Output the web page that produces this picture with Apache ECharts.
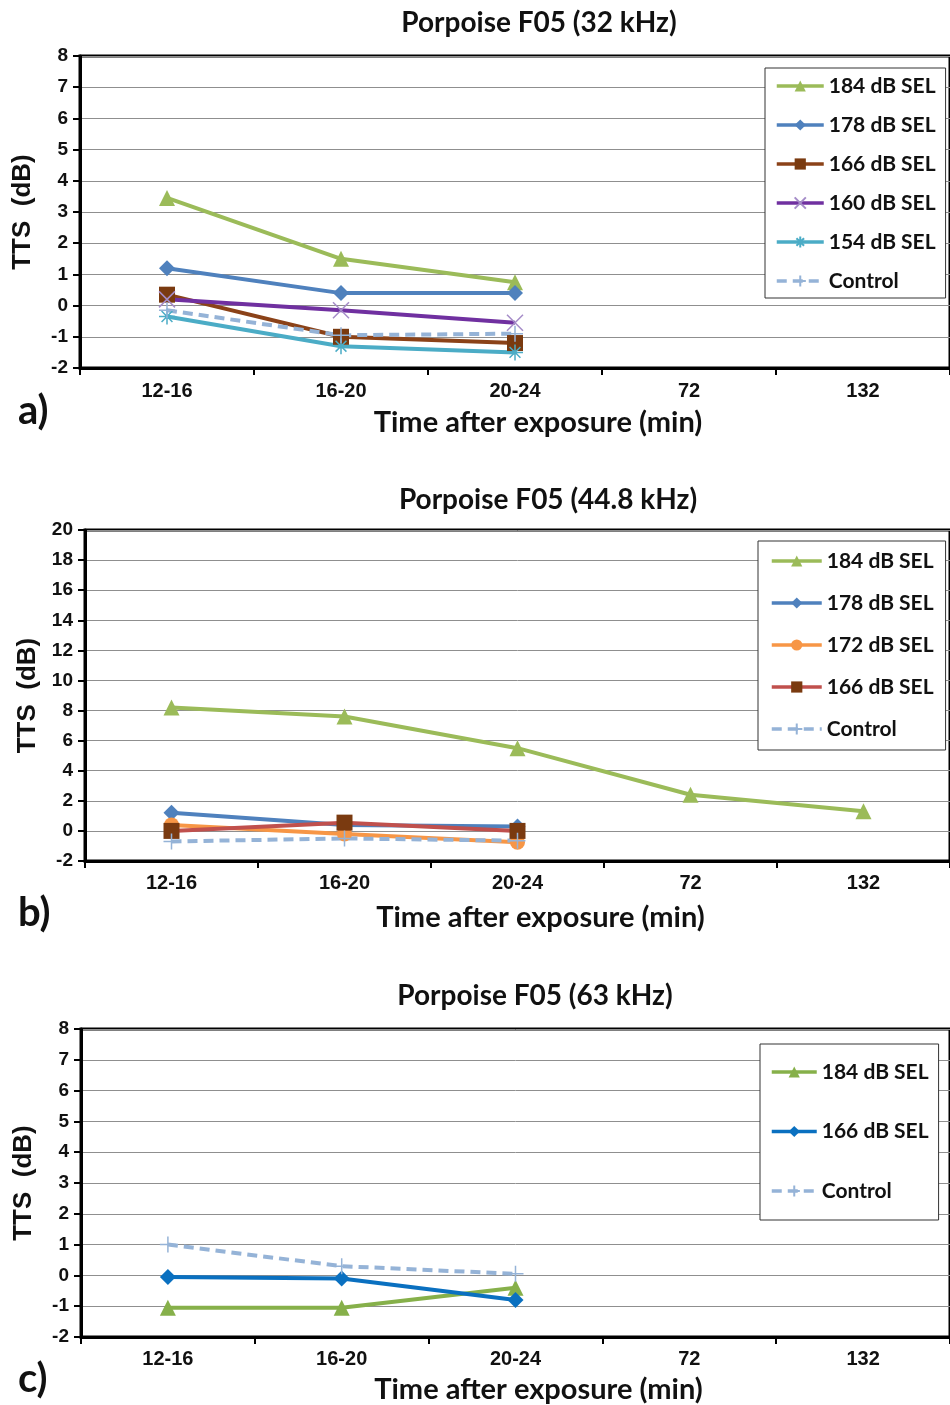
<!DOCTYPE html>
<html><head><meta charset="utf-8">
<script src="https://cdn.jsdelivr.net/npm/echarts@6/dist/echarts.min.js"></script>
<style>html,body{margin:0;padding:0;background:#fff}#c{width:950px;height:1405px}</style>
</head><body><div id="c"></div>
<script>
// ---- data ----
const categories = ['12-16', '16-20', '20-24', '72', '132'];
const titles = ['Porpoise F05 (32 kHz)', 'Porpoise F05 (44.8 kHz)', 'Porpoise F05 (63 kHz)'];
const panelLabels = ['a)', 'b)', 'c)'];
const xName = 'Time after exposure (min)';
const yName = 'TTS  (dB)';

// panel a (32 kHz)
const a184 = [3.45, 1.5, 0.75];
const a178 = [1.2, 0.4, 0.4];
const a166 = [0.35, -1.0, -1.2];
const a160 = [0.2, -0.15, -0.55];
const a154 = [-0.35, -1.3, -1.5];
const aCtl = [-0.15, -0.95, -0.9];
// panel b (44.8 kHz)
const b184 = [8.2, 7.6, 5.5, 2.4, 1.3];
const b178 = [1.2, 0.4, 0.3];
const b172 = [0.4, -0.2, -0.75];
const b166 = [0.0, 0.55, 0.0];
const bCtl = [-0.7, -0.5, -0.65];
// panel c (63 kHz)
const c184 = [-1.05, -1.05, -0.4];
const c166 = [-0.05, -0.1, -0.8];
const cCtl = [1.0, 0.3, 0.05];

// ---- styles ----
const SYM_X = 'path://M0,0L10,10M10,0L0,10';
const SYM_STAR = 'path://M5,0L5,10M0,5L10,5M1.6,1.6L8.4,8.4M8.4,1.6L1.6,8.4';
const SYM_PLUS = 'path://M5,0L5,10M0,5L10,5';
const FONT_C = 'Lato, "Open Sans", sans-serif';
const FONT_A = '"Liberation Sans", Arial, sans-serif';

function ser(panel, name, data, lineColor, symbol, size, markColor, dashed, strokeSym) {
  return {
    type: 'line', name: panel + ':' + name, data: data,
    xAxisIndex: ['a','b','c'].indexOf(panel), yAxisIndex: ['a','b','c'].indexOf(panel),
    symbol: symbol, symbolSize: size, showSymbol: true,
    lineStyle: { color: lineColor, width: 4, type: dashed ? [10, 6] : 'solid' },
    itemStyle: strokeSym ? { color: markColor, borderColor: markColor, borderWidth: 1.5 }
                         : { color: markColor, borderWidth: 0 },
    emphasis: { disabled: true }, animation: false, z: 3
  };
}

const series = [
  ser('a', '184 dB SEL', a184, '#9BBB59', 'triangle', 16, '#9BBB59'),
  ser('a', '178 dB SEL', a178, '#4F81BD', 'diamond', 16, '#4F81BD'),
  ser('a', '166 dB SEL', a166, '#8B4218', 'rect', 16, '#7A3A10'),
  ser('a', '160 dB SEL', a160, '#7030A0', SYM_X, 16, '#A58CC8', false, true),
  ser('a', '154 dB SEL', a154, '#4BACC6', SYM_STAR, 16, '#4BACC6', false, true),
  ser('a', 'Control', aCtl, '#95B3D7', SYM_PLUS, 16, '#95B3D7', true, true),
  ser('b', '184 dB SEL', b184, '#9BBB59', 'triangle', 16, '#9BBB59'),
  ser('b', '178 dB SEL', b178, '#4F81BD', 'diamond', 16, '#4F81BD'),
  ser('b', '172 dB SEL', b172, '#F79646', 'circle', 15, '#F79646'),
  ser('b', '166 dB SEL', b166, '#C0504D', 'rect', 16, '#7A3A10'),
  ser('b', 'Control', bCtl, '#95B3D7', SYM_PLUS, 16, '#95B3D7', true, true),
  ser('c', '184 dB SEL', c184, '#86B04A', 'triangle', 16, '#86B04A'),
  ser('c', '166 dB SEL', c166, '#0A70C0', 'diamond', 16, '#0A70C0'),
  ser('c', 'Control', cCtl, '#95B3D7', SYM_PLUS, 16, '#95B3D7', true, true)
];

const grids = [
  { left: 80, top: 56, width: 875, height: 312 },
  { left: 85, top: 530, width: 871, height: 331 },
  { left: 81, top: 1029, width: 874, height: 308 }
];
const yRanges = [[-2, 8, 1], [-2, 20, 2], [-2, 8, 1]];
const xLabelMargin = [13, 12, 12];
const xNameGap = [40, 42, 38];
const yNameGap = [44, 44, 44];

const xAxes = grids.map((g, i) => ({
  type: 'category', gridIndex: i, data: categories, boundaryGap: true,
  axisLine: { show: true, onZero: false, lineStyle: { color: '#000', width: 3 } },
  axisTick: { show: true, length: 7, lineStyle: { color: '#000', width: 2 }, alignWithLabel: false },
  axisLabel: { color: '#111', fontFamily: FONT_A, fontWeight: 'bold', fontSize: 20, margin: xLabelMargin[i] },
  name: xName, nameLocation: 'middle', nameGap: xNameGap[i],
  nameTextStyle: { color: '#111', fontFamily: FONT_C, fontWeight: 'bold', fontSize: 29, padding: [0, 0, 0, 46] },
  splitLine: { show: false }
}));
const yAxes = grids.map((g, i) => ({
  type: 'value', gridIndex: i, min: yRanges[i][0], max: yRanges[i][1], interval: yRanges[i][2],
  axisLine: { show: true, onZero: false, lineStyle: { color: '#000', width: 3 } },
  axisTick: { show: true, length: 7, lineStyle: { color: '#000', width: 2 } },
  axisLabel: { color: '#111', fontFamily: FONT_A, fontWeight: 'bold', fontSize: 19, margin: 12 },
  splitLine: { show: true, lineStyle: { color: '#8f8f8f', width: 1 } },
  name: yName, nameLocation: 'middle', nameGap: yNameGap[i], nameRotate: 90,
  nameTextStyle: { color: '#111', fontFamily: FONT_A, fontWeight: 'bold', fontSize: 26 }
}));

const legendNames = [
  series.filter(s => s.name.startsWith('a:')).map(s => s.name),
  series.filter(s => s.name.startsWith('b:')).map(s => s.name),
  series.filter(s => s.name.startsWith('c:')).map(s => s.name)
];
const legendPos = [
  { left: 765, top: 68, itemGap: 17, padding: [7, 10, 6, 10], itemWidth: 47 },
  { left: 758, top: 541, itemGap: 20, padding: [9, 12, 10, 12], itemWidth: 50 },
  { left: 760, top: 1044, itemGap: 37.5, padding: [17, 10, 18, 10], itemWidth: 45 }
];
const legends = legendPos.map((p, i) => ({
  data: legendNames[i], orient: 'vertical', left: p.left, top: p.top,
  itemGap: p.itemGap, padding: p.padding, itemWidth: p.itemWidth, itemHeight: 14,
  backgroundColor: '#fff', borderColor: '#333', borderWidth: 1,
  selectedMode: false, itemTextGap: 6,
  lineStyle: { width: 3.5 },
  formatter: n => n.slice(2),
  textStyle: { color: '#111', fontFamily: FONT_C, fontWeight: 'bold', fontSize: 21, lineHeight: 22 }
}));

const titleX = [534, 543, 530];
const titleY = [4, 481, 977];
const titleComps = titles.map((t, i) => ({
  text: t, left: titleX[i], top: titleY[i], textAlign: 'center',
  textStyle: { color: '#111', fontFamily: FONT_C, fontWeight: 'bold', fontSize: 28 }
}));
const labelY = [386, 888, 1354];
const labelComps = panelLabels.map((t, i) => ({
  text: t, left: 13, top: labelY[i],
  textStyle: { color: '#111', fontFamily: FONT_C, fontWeight: 'bold', fontSize: 40 }
}));

const chart = echarts.init(document.getElementById('c'), null, { renderer: 'canvas' });
chart.setOption({
  animation: false,
  backgroundColor: '#fff',
  title: titleComps.concat(labelComps),
  grid: grids.map(g => Object.assign({ show: true, borderColor: '#000', borderWidth: 3, backgroundColor: 'transparent' }, g)),
  xAxis: xAxes,
  yAxis: yAxes,
  legend: legends,
  series: series
});
</script></body></html>
